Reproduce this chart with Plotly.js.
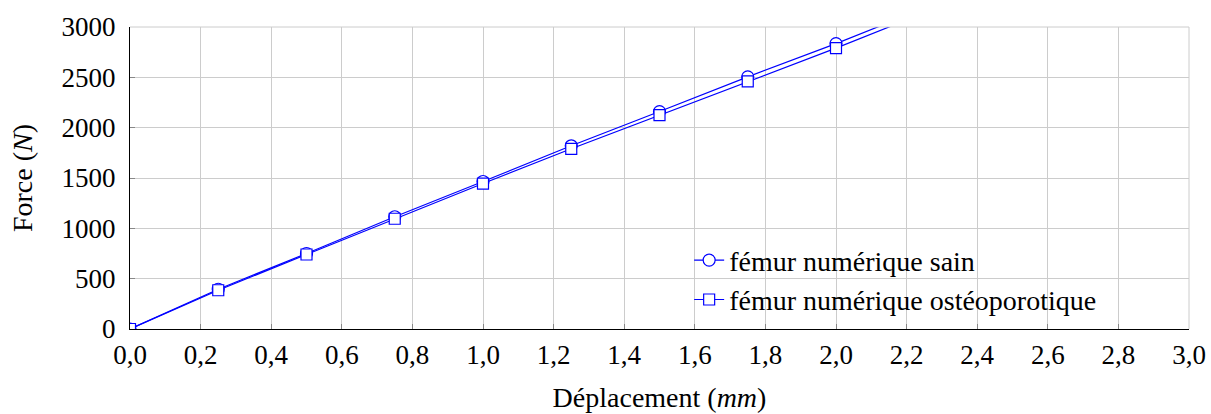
<!DOCTYPE html>
<html>
<head>
<meta charset="utf-8">
<script src="https://cdn.plot.ly/plotly-3.0.1.min.js"></script>
<style>html,body{margin:0;padding:0;background:#fff;}#chart{width:1211px;height:414px;}</style>
</head>
<body>
<div id="chart"></div>
<script>
const deplacement = [0, 0.25, 0.5, 0.75, 1.0, 1.25, 1.5, 1.75, 2.0, 2.25];
const forceSain = [0, 395, 750, 1115, 1465, 1820, 2160, 2505, 2835, 3185];
const forceOsteo = [0, 385, 740, 1095, 1445, 1790, 2125, 2460, 2790, 3140];
const seriesNames = ["fémur numérique sain", "fémur numérique ostéoporotique"];
const xTicks = [0, 0.2, 0.4, 0.6, 0.8, 1.0, 1.2, 1.4, 1.6, 1.8, 2.0, 2.2, 2.4, 2.6, 2.8, 3.0];
const yTicks = [0, 500, 1000, 1500, 2000, 2500, 3000];

const FONT = "Liberation Serif, Times New Roman, serif";
const blue = "#0000ff";

const traces = [
  {x: deplacement, y: forceSain, name: seriesNames[0], mode: "lines+markers",
   line: {color: blue, width: 1.2},
   marker: {symbol: "circle", size: 12, color: "#ffffff", line: {color: blue, width: 1.2}}},
  {x: deplacement, y: forceOsteo, name: seriesNames[1], mode: "lines+markers",
   line: {color: blue, width: 1.2},
   marker: {symbol: "square", size: 11, color: "#ffffff", line: {color: blue, width: 1.2}}}
];

const layout = {
  width: 1211, height: 414,
  margin: {l: 130, r: 22, t: 27, b: 85},
  paper_bgcolor: "#fff", plot_bgcolor: "#fff",
  separators: ", ",
  font: {family: FONT, size: 28, color: "#000"},
  showlegend: true,
  legend: {x: 0.528, y: 0.31, xanchor: "left", yanchor: "top",
           bgcolor: "rgba(255,255,255,0)", borderwidth: 0,
           font: {family: FONT, size: 28, color: "#000"}, tracegroupgap: 0},
  xaxis: {
    range: [0, 3], tickvals: xTicks, tickformat: ".1f",
    showgrid: true, gridcolor: "#cccccc", gridwidth: 1,
    showline: true, linecolor: "#000", linewidth: 1.2,
    ticks: "inside", ticklen: 5, tickcolor: "#888", tickwidth: 1,
    zeroline: false, ticklabelstandoff: 1,
    tickfont: {family: FONT, size: 27, color: "#000"},
    title: {text: "Déplacement (<i>mm</i>)", font: {family: FONT, size: 28, color: "#000"}, standoff: 18}
  },
  yaxis: {
    range: [0, 3000], tickvals: yTicks,
    showgrid: true, gridcolor: "#cccccc", gridwidth: 1,
    showline: true, linecolor: "#000", linewidth: 1.2,
    ticks: "inside", ticklen: 5, tickcolor: "#888", tickwidth: 1,
    zeroline: false, ticklabelstandoff: 8,
    tickfont: {family: FONT, size: 27, color: "#000"},
    title: {text: "Force (<i>N</i>)", font: {family: FONT, size: 28, color: "#000"}, standoff: 20}
  },
  shapes: [
    {type: "line", xref: "paper", yref: "paper", x0: 0, x1: 1, y0: 1, y1: 1, line: {color: "#cccccc", width: 1}},
    {type: "line", xref: "paper", yref: "paper", x0: 1, x1: 1, y0: 0, y1: 1, line: {color: "#cccccc", width: 1}}
  ]
};

Plotly.newPlot("chart", traces, layout, {displayModeBar: false, staticPlot: true});
</script>
</body>
</html>
